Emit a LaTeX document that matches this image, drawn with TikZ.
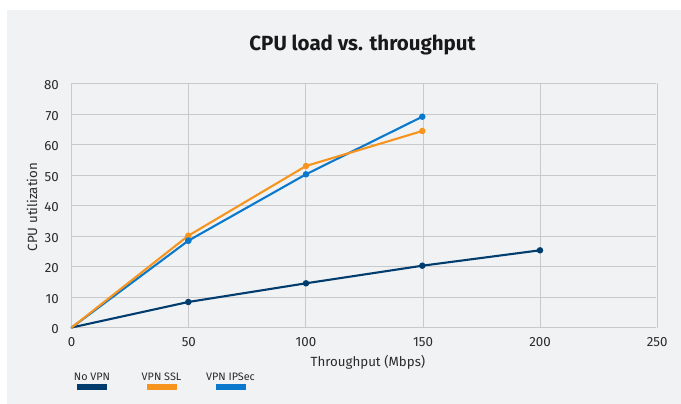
\documentclass[tikz,border=0pt]{standalone}
\usepackage{fontspec}
\setmainfont{Fira Sans}
\definecolor{panel}{HTML}{F1F2F4}
\definecolor{gridc}{HTML}{C9C9CB}
\definecolor{navy}{HTML}{003C6E}
\definecolor{orng}{HTML}{F7941D}
\definecolor{iblue}{HTML}{0A78CC}
\definecolor{txt}{HTML}{2B2B2B}
\tikzset{
  gridline/.style={draw=gridc, line width=0.9pt},
  series/.style={line width=2.1pt, line join=round, line cap=round},
  dot/.style={circle, fill, inner sep=0pt, minimum size=6.5pt},
  ticklab/.style={font=\fontsize{13.3}{13}\selectfont, text=txt, inner sep=0pt},
  legtxt/.style={font=\fontsize{10.8}{11}\selectfont, text=txt, inner sep=0pt},
  swatch/.style={minimum width=30pt, minimum height=6pt, inner sep=0pt}
}
\begin{document}
\begin{tikzpicture}[x=1pt,y=-1pt]
\useasboundingbox (0,0) rectangle (681,404);
\fill[white] (0,0) rectangle (681,404);
\fill[panel] (7,10) rectangle (681,404);
% title
\node[font=\bfseries\fontsize{20.5}{21}\selectfont, text=black!90] (title) at (362.5,45) {CPU load vs. throughput};
% grid
\foreach \v [evaluate=\v as \yy using {327.5-30.5*\v/10}] in {10,20,...,80}
  \draw[gridline] (71.7,\yy) -- (656,\yy);
\draw[gridline] (71.7,327.5) -- (656,327.5);
\foreach \u [evaluate=\u as \xx using {71.7+2.342*\u}] in {0,50,...,250}
  \draw[gridline] (\xx,83.5) -- (\xx,327.5);
% tick labels
\foreach \v [evaluate=\v as \yy using {329.5-30.5*\v/10}] in {0,10,...,80}
  \node[ticklab, anchor=east] at (59,\yy) {\v};
\foreach \u [evaluate=\u as \xx using {71.7+2.342*\u}] in {0,50,...,250}
  \node[ticklab] at (\xx,342) {\u};
\node[ticklab, rotate=90] (ylab) at (32,207) {CPU utilization};
\node[ticklab] (xlab) at (368,362) {Throughput (Mbps)};
% data points
\coordinate (o0) at (71.7,327.5);
\node[dot, navy] (n1) at (188.3,302) {};
\node[dot, navy] (n2) at (306,283.3) {};
\node[dot, navy] (n3) at (422.3,265.7) {};
\node[dot, navy] (n4) at (540,250.3) {};
\node[dot, orng] (s1) at (188.3,235.7) {};
\node[dot, orng] (s2) at (306,166) {};
\node[dot, orng] (s3) at (422.3,131) {};
\node[dot, iblue] (b1) at (188.3,240.7) {};
\node[dot, iblue] (b2) at (306,174.3) {};
\node[dot, iblue] (b3) at (422.3,116.7) {};
\draw[series, navy] (o0) -- (n1.center) -- (n2.center) -- (n3.center) -- (n4.center);
\draw[series, iblue] (o0) -- (b1.center) -- (b2.center) -- (b3.center);
\draw[series, orng] (o0) -- (s1.center) -- (s2.center) -- (s3.center);
\node[dot, iblue] at (b1) {};
% legend
\node[legtxt] (l1) at (92,377) {No VPN};
\node[swatch, fill=navy] (w1) at (92,387) {};
\node[legtxt] (l2) at (161.5,377) {VPN SSL};
\node[swatch, fill=orng] (w2) at (161.5,387) {};
\node[legtxt] (l3) at (230.5,377) {VPN IPSec};
\node[swatch, fill=iblue] (w3) at (230.5,387) {};
\end{tikzpicture}
\end{document}
